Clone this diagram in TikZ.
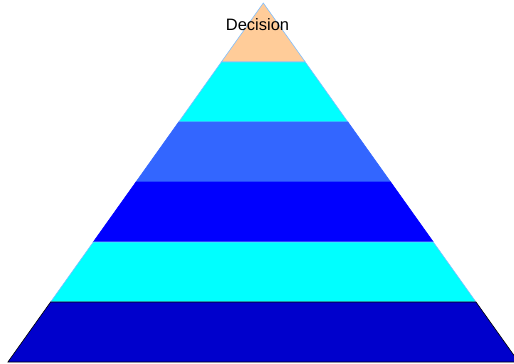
\documentclass[tikz,border=0pt]{standalone}
\usepackage{fontspec}
\setmainfont{Liberation Sans}
\definecolor{peach}{HTML}{FFCC99}
\definecolor{cyanL}{HTML}{00FFFF}
\definecolor{royal}{HTML}{3366FF}
\definecolor{pureblue}{HTML}{0000FF}
\definecolor{darkblue}{HTML}{0000CC}
\definecolor{edgeblue}{HTML}{80BFFF}
\begin{document}
\begin{tikzpicture}[x=1pt,y=-1pt,
  layer/.style={line width=0.6pt, line join=miter}]
\useasboundingbox (0,0) rectangle (514,364);
\def\cx{263.3}
% layers: top y, bottom y, half widths
\fill[layer,peach,draw=edgeblue] (\cx,3) -- (\cx+41.97,62) -- (\cx-41.97,62) -- cycle;
\filldraw[layer,fill=cyanL,draw=edgeblue] (\cx-41.97,62) -- (\cx+41.97,62) -- (\cx+84.6,122) -- (\cx-84.6,122) -- cycle;
\filldraw[layer,fill=royal,draw=royal] (\cx-84.6,122) -- (\cx+84.6,122) -- (\cx+127.3,182) -- (\cx-127.3,182) -- cycle;
\filldraw[layer,fill=pureblue,draw=pureblue] (\cx-127.3,182) -- (\cx+127.3,182) -- (\cx+170.0,242) -- (\cx-170.0,242) -- cycle;
\filldraw[layer,fill=cyanL,draw=edgeblue] (\cx-170.0,242) -- (\cx+170.0,242) -- (\cx+212.7,302) -- (\cx-212.7,302) -- cycle;
\filldraw[layer,fill=darkblue,draw=black] (\cx-212.7,302) -- (\cx+212.7,302) -- (\cx+255.4,362) -- (\cx-255.4,362) -- cycle;
\node[anchor=base, inner sep=0pt, font=\fontsize{16.5}{18}\selectfont] (decision) at (257.5,30.7) {Decision};
\end{tikzpicture}
\end{document}
